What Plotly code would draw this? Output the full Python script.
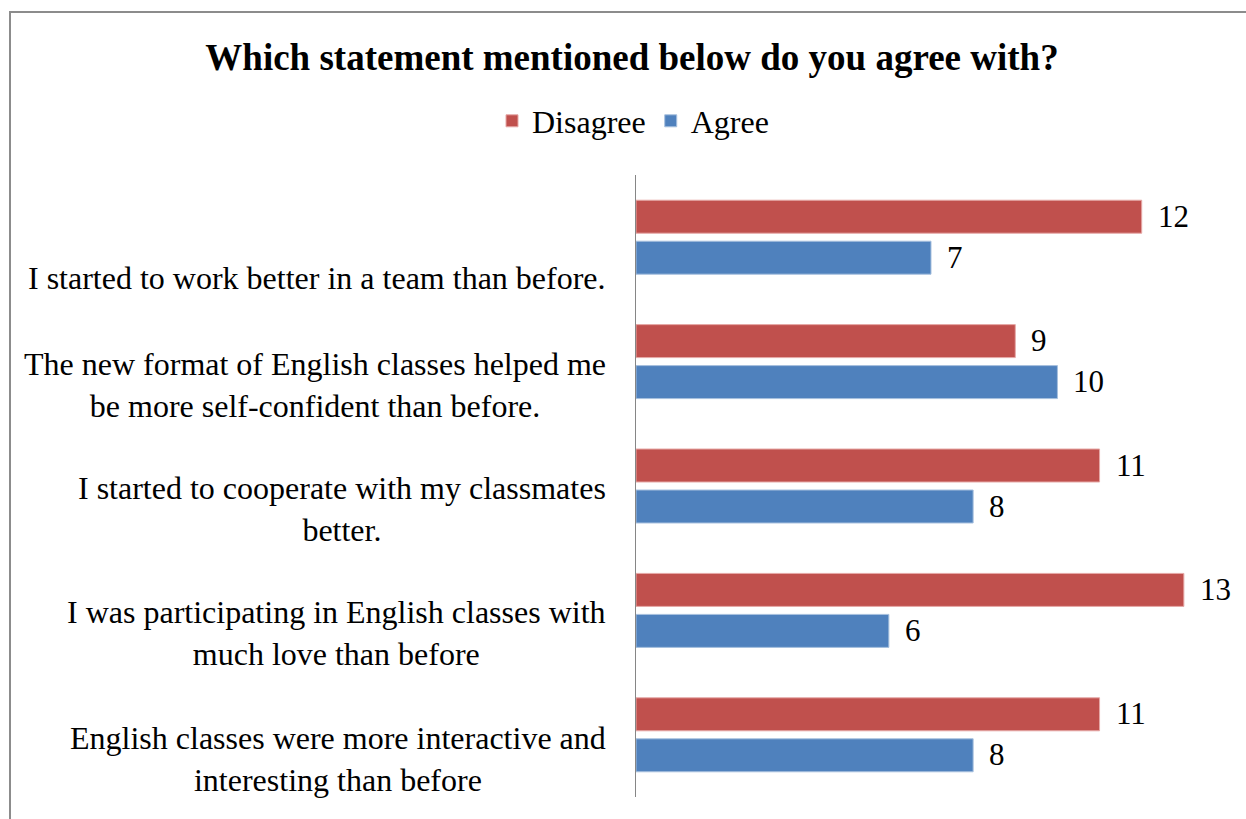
import plotly.graph_objects as go

# Survey statements, listed top to bottom
statements = [
    "I started to work better in a team than before.",
    "The new format of English classes helped me<br>be more self-confident than before.",
    "I started to cooperate with my classmates<br>better.",
    "I was participating in English classes with<br>much love than before",
    "English classes were more interactive and<br>interesting than before",
]
disagree = [12, 9, 11, 13, 11]
agree = [7, 10, 8, 6, 8]

FONT = "Liberation Serif, Times New Roman, serif"
RED = "#C0504D"
BLUE = "#4F81BD"

W, H = 1246, 819
M_L, M_R, M_T, M_B = 636, 20, 175, 22
PW, PH = W - M_L - M_R, H - M_T - M_B

fig = go.Figure()
fig.add_trace(go.Bar(
    name="Disagree", y=statements, x=disagree, orientation="h",
    marker=dict(color=RED, line=dict(color="#E6A9A7", width=1)),
    hoverinfo="x+y",
))
fig.add_trace(go.Bar(
    name="Agree", y=statements, x=agree, orientation="h",
    marker=dict(color=BLUE, line=dict(color="#A7C0DE", width=1)),
    hoverinfo="x+y",
))

annotations = []

# value labels just past the end of each bar
for series, vals in (("Disagree", disagree), ("Agree", agree)):
    for i, v in enumerate(vals):
        # bar centre offset inside the category slot (in px)
        dy = 21 if series == "Disagree" else -20
        annotations.append(dict(
            x=v, y=statements[i], xref="x", yref="y",
            text=str(v), showarrow=False,
            xanchor="left", yanchor="middle", xshift=14, yshift=dy,
            font=dict(family=FONT, size=31, color="#000000"),
        ))

# category labels, centred lines, right edge near the axis
label_shift = [-41, -23, -22.5, -23, -24.5]
for i, s in enumerate(statements):
    annotations.append(dict(
        x=0, y=s, xref="paper", yref="y",
        text=s, showarrow=False, align="center",
        xanchor="right", yanchor="middle", xshift=-28, yshift=label_shift[i],
        font=dict(family=FONT, size=32, color="#000000"),
    ))

# outer frame: top and left edges
def px_x(p):
    return (p - M_L) / PW

def px_y(p):
    return (H - M_B - p) / PH

frame = dict(color="#8C8C8C", width=2)
shapes = [
    dict(type="line", xref="paper", yref="paper",
         x0=px_x(9), x1=px_x(1250), y0=px_y(12), y1=px_y(12), line=frame),
    dict(type="line", xref="paper", yref="paper",
         x0=px_x(10), x1=px_x(10), y0=px_y(12), y1=px_y(830), line=frame),
]

fig.update_layout(
    width=W, height=H,
    margin=dict(l=M_L, r=M_R, t=M_T, b=M_B, autoexpand=False),
    paper_bgcolor="white", plot_bgcolor="white",
    barmode="group", bargap=0.341, bargroupgap=0.195,
    title=dict(
        text="<b>Which statement mentioned below do you agree with?</b>",
        x=632 / W, xanchor="center", xref="container",
        y=1 - 57 / H, yanchor="middle", yref="container",
        font=dict(family=FONT, size=37, color="#000000"),
    ),
    legend=dict(
        orientation="h", xref="container", yref="container",
        x=633 / W, xanchor="center", y=1 - 121 / H, yanchor="middle",
        font=dict(family=FONT, size=32, color="#000000"),
        itemclick=False, itemdoubleclick=False,
        bgcolor="rgba(0,0,0,0)",
    ),
    xaxis=dict(range=[0, 14], showticklabels=False, showgrid=False,
               zeroline=False, showline=False, ticks=""),
    yaxis=dict(autorange="reversed", showticklabels=False, showgrid=False,
               zeroline=False, showline=True, linecolor="#868686",
               linewidth=1, ticks=""),
    annotations=annotations,
    shapes=shapes,
    showlegend=True,
)

fig.write_html("out.html")
